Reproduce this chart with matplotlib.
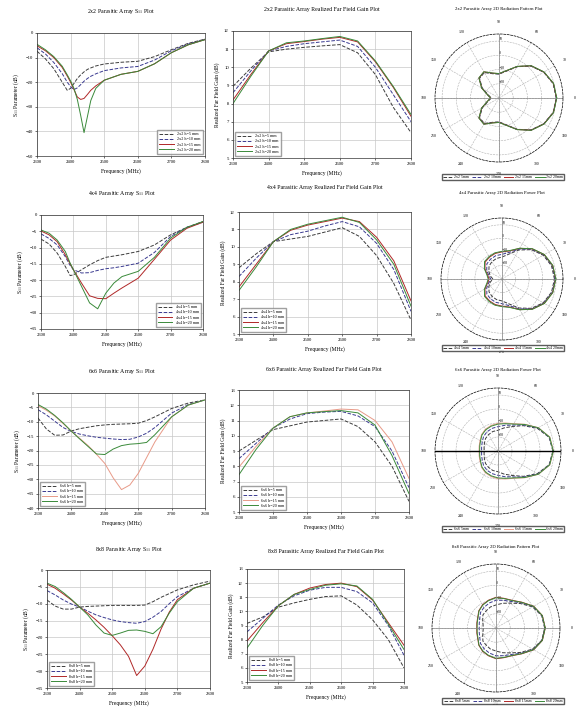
import numpy as np
import matplotlib
matplotlib.use('Agg')
import matplotlib.pyplot as plt

plt.rcParams['font.family'] = ['Liberation Serif', 'DejaVu Serif']
plt.rcParams['mathtext.fontset'] = 'stix'

W, H = 577, 707

# ---------------- data ----------------
array_sizes = ['2x2', '4x4', '6x6', '8x8']
heights = ['5', '10', '15', '20']

# S11 (dB)
f_s11_2x2 = [2300, 2325, 2350, 2375, 2390, 2400, 2410, 2420, 2430, 2440, 2450, 2460, 2475, 2500, 2550, 2600, 2650, 2700, 2750, 2800]
s11_2x2_h5 = [-7.4, -10.5, -14.5, -20.0, -23.3, -22.5, -20.5, -18.5, -17.0, -15.8, -14.8, -14.2, -13.4, -12.6, -11.9, -11.5, -9.6, -6.8, -4.2, -2.5]
s11_2x2_h10 = [-6.0, -8.5, -12.0, -16.5, -20.0, -21.8, -23.0, -22.3, -21.0, -19.6, -18.5, -17.6, -16.6, -15.3, -14.2, -13.6, -11.0, -7.2, -4.5, -2.6]
s11_2x2_h15 = [-5.2, -7.2, -10.0, -14.0, -17.5, -20.0, -23.0, -26.0, -27.0, -26.6, -25.0, -23.3, -21.5, -19.2, -16.8, -15.6, -12.5, -8.0, -4.8, -2.7]
s11_2x2_h20 = [-4.6, -6.8, -9.6, -13.5, -17.0, -19.5, -22.5, -27.0, -33.5, -40.5, -34.0, -27.5, -22.5, -19.2, -16.8, -15.6, -12.5, -8.0, -4.8, -2.7]

f_s11_4x4 = [2300, 2325, 2350, 2375, 2390, 2400, 2425, 2450, 2475, 2500, 2525, 2550, 2600, 2650, 2700, 2750, 2800]
s11_4x4_h5 = [-7.4, -8.9, -11.7, -15.8, -18.6, -18.4, -16.8, -15.3, -14.0, -13.0, -12.6, -12.2, -11.2, -9.2, -6.1, -3.8, -2.0]
s11_4x4_h10 = [-5.8, -7.2, -9.2, -12.8, -15.5, -16.8, -17.8, -17.7, -17.0, -16.5, -16.2, -15.8, -14.8, -11.5, -6.6, -3.8, -2.2]
s11_4x4_h15 = [-4.9, -6.1, -8.2, -12.2, -15.0, -16.8, -20.9, -24.8, -25.6, -25.7, -24.0, -22.4, -19.4, -13.6, -7.7, -4.1, -2.2]
s11_4x4_h20 = [-4.6, -5.6, -7.7, -11.2, -14.8, -16.8, -21.9, -27.0, -28.8, -24.0, -20.9, -18.9, -17.3, -13.0, -7.1, -3.8, -2.0]

f_s11_6x6 = [2300, 2325, 2350, 2375, 2400, 2425, 2450, 2475, 2500, 2525, 2550, 2575, 2600, 2625, 2650, 2700, 2750, 2800]
s11_6x6_h5 = [-8.7, -12.5, -14.7, -14.6, -13.2, -12.4, -11.9, -11.4, -11.1, -10.9, -10.8, -10.7, -10.5, -9.6, -8.3, -5.4, -3.5, -2.4]
s11_6x6_h10 = [-5.8, -7.6, -9.8, -12.0, -13.4, -14.3, -14.9, -15.4, -15.7, -16.0, -16.2, -16.1, -15.3, -14.0, -12.0, -7.0, -4.0, -2.4]
s11_6x6_h15 = [-4.4, -6.0, -8.0, -10.6, -13.3, -15.8, -18.3, -21.3, -24.5, -29.5, -33.6, -32.0, -28.0, -22.5, -17.0, -8.3, -4.2, -2.4]
s11_6x6_h20 = [-4.0, -5.6, -7.8, -10.4, -13.3, -16.0, -18.6, -21.2, -21.4, -19.5, -18.3, -17.8, -17.6, -17.2, -14.5, -8.3, -4.2, -2.4]

f_s11_8x8 = [2300, 2325, 2350, 2375, 2400, 2425, 2450, 2475, 2500, 2525, 2550, 2575, 2600, 2625, 2650, 2675, 2700, 2750, 2800]
s11_8x8_h5 = [-8.9, -10.7, -11.6, -11.6, -11.0, -10.8, -10.7, -10.6, -10.5, -10.5, -10.5, -10.5, -10.4, -9.4, -8.1, -7.0, -5.9, -4.4, -3.3]
s11_8x8_h10 = [-6.1, -7.4, -8.9, -10.1, -11.0, -12.2, -13.3, -14.1, -14.8, -15.3, -15.6, -15.8, -15.3, -14.0, -12.3, -10.0, -7.9, -5.4, -3.9]
s11_8x8_h15 = [-4.2, -5.4, -7.1, -8.9, -11.0, -12.8, -14.8, -17.0, -19.5, -22.2, -25.6, -31.3, -28.5, -23.5, -17.5, -12.5, -8.8, -5.4, -3.9]
s11_8x8_h20 = [-3.9, -4.9, -6.7, -8.7, -11.0, -13.3, -16.3, -18.7, -19.4, -18.7, -17.9, -17.8, -18.2, -18.9, -16.8, -12.8, -9.4, -5.4, -3.9]

# realized far field gain (dB)
f_gain = [2300, 2350, 2400, 2450, 2500, 2550, 2600, 2650, 2700, 2750, 2800]
gain_2x2_h5 = [8.95, 9.95, 10.85, 11.0, 11.1, 11.18, 11.25, 10.8, 9.6, 7.8, 6.4]
gain_2x2_h10 = [8.6, 9.8, 10.9, 11.15, 11.3, 11.4, 11.5, 11.15, 10.0, 8.5, 7.0]
gain_2x2_h15 = [8.2, 9.6, 10.9, 11.3, 11.42, 11.55, 11.65, 11.4, 10.3, 8.9, 7.3]
gain_2x2_h20 = [8.0, 9.5, 10.9, 11.35, 11.45, 11.58, 11.7, 11.45, 10.35, 8.95, 7.4]

gain_4x4_h5 = [8.8, 9.6, 10.3, 10.45, 10.6, 10.85, 11.1, 10.6, 9.5, 7.9, 5.8]
gain_4x4_h10 = [8.3, 9.35, 10.3, 10.7, 10.9, 11.2, 11.45, 11.15, 10.2, 8.7, 6.3]
gain_4x4_h15 = [7.7, 9.0, 10.3, 10.95, 11.25, 11.45, 11.65, 11.45, 10.55, 9.2, 6.9]
gain_4x4_h20 = [7.5, 8.85, 10.3, 11.0, 11.3, 11.5, 11.7, 11.4, 10.4, 9.0, 6.6]

gain_6x6_h5 = [9.0, 9.7, 10.4, 10.65, 10.9, 11.0, 11.1, 10.6, 9.6, 8.0, 5.7]
gain_6x6_h10 = [8.5, 9.5, 10.5, 11.1, 11.45, 11.55, 11.6, 11.3, 10.6, 9.0, 6.6]
gain_6x6_h15 = [7.95, 9.3, 10.5, 11.25, 11.5, 11.62, 11.75, 11.7, 11.0, 9.6, 7.2]
gain_6x6_h20 = [7.45, 9.1, 10.5, 11.25, 11.5, 11.58, 11.65, 11.5, 10.7, 8.7, 6.2]

gain_8x8_h5 = [9.15, 9.6, 10.3, 10.6, 10.85, 11.05, 11.1, 10.45, 9.4, 8.0, 6.0]
gain_8x8_h10 = [8.55, 9.5, 10.45, 11.1, 11.5, 11.7, 11.7, 11.4, 10.6, 9.0, 6.9]
gain_8x8_h15 = [7.9, 9.2, 10.4, 11.2, 11.65, 11.9, 12.0, 11.75, 10.8, 9.2, 7.6]
gain_8x8_h20 = [7.4, 9.0, 10.4, 11.2, 11.55, 11.85, 11.95, 11.8, 10.85, 9.1, 7.3]

# radiation pattern (dB), 0..180 deg, pattern is symmetric
theta_half = [0, 15, 30, 45, 60, 75, 90, 105, 120, 135, 150, 165, 180]
pat_2x2_h5 = [10.3, 9.4, 6.3, 1.8, -4.6, -10.5, -13.2, -12.3, -9.3, -10.6, -16.5, -22.3, -24.6]
pat_2x2_h10 = [10.4, 9.5, 6.4, 1.9, -4.5, -10.3, -13.0, -12.1, -9.0, -10.3, -16.2, -22.0, -24.3]
pat_2x2_h15 = [10.5, 9.6, 6.5, 2.0, -4.4, -10.2, -12.9, -11.9, -8.8, -10.1, -16.0, -21.8, -24.1]
pat_2x2_h20 = [10.6, 9.7, 6.6, 2.1, -4.3, -10.1, -12.8, -11.8, -8.7, -10.0, -15.9, -21.7, -24.0]

pat_4x4_h5 = [8.7, 7.8, 5.1, 0.6, -5.3, -11.1, -13.8, -14.3, -15.2, -16.5, -18.8, -21.0, -23.3]
pat_4x4_h10 = [9.2, 8.3, 5.6, 1.1, -4.5, -9.7, -11.8, -12.2, -13.1, -14.2, -17.0, -19.9, -21.7]
pat_4x4_h15 = [9.6, 8.7, 6.0, 1.5, -3.9, -8.6, -10.0, -10.5, -11.4, -12.4, -15.5, -19.0, -20.5]
pat_4x4_h20 = [9.7, 8.8, 6.1, 1.6, -3.8, -8.3, -9.6, -10.0, -10.9, -11.8, -15.0, -18.5, -19.8]

pat_6x6_h5 = [9.2, 7.8, 2.4, -4.4, -9.8, -12.9, -15.2, -15.6, -16.5, -17.4, -18.8, -19.7, -20.1]
pat_6x6_h10 = [9.4, 8.0, 2.9, -3.7, -8.6, -11.0, -12.6, -13.3, -14.2, -15.4, -17.0, -17.9, -18.3]
pat_6x6_h15 = [9.6, 8.3, 3.3, -3.0, -7.5, -9.3, -10.2, -11.1, -12.0, -13.4, -15.2, -16.1, -16.5]
pat_6x6_h20 = [9.5, 8.2, 3.2, -3.2, -7.8, -9.8, -10.8, -11.6, -12.5, -13.8, -15.6, -16.5, -16.9]

pat_8x8_h5 = [4.2, 3.3, -0.3, -5.7, -9.8, -12.0, -13.8, -14.7, -16.1, -17.0, -19.2, -20.6, -21.0]
pat_8x8_h10 = [4.4, 3.5, 0.2, -4.9, -8.5, -9.8, -10.5, -11.8, -13.2, -14.6, -16.8, -17.8, -18.2]
pat_8x8_h15 = [4.65, 3.75, 0.6, -4.35, -7.5, -8.4, -8.4, -9.75, -11.1, -12.9, -15.15, -16.05, -16.5]
pat_8x8_h20 = [4.6, 3.7, 0.5, -4.5, -7.7, -8.6, -8.7, -10.0, -11.4, -13.1, -15.4, -16.3, -16.7]

# ---------------- layout (pixel boxes) ----------------
rows = [
    dict(n='2x2', f=f_s11_2x2, s11=[s11_2x2_h5, s11_2x2_h10, s11_2x2_h15, s11_2x2_h20],
         gain=[gain_2x2_h5, gain_2x2_h10, gain_2x2_h15, gain_2x2_h20],
         pat=[pat_2x2_h5, pat_2x2_h10, pat_2x2_h15, pat_2x2_h20],
         s_box=(37, 33, 205, 156), s_lim=(-50, 0), s_step=10, s_leg='lower right', s_title_y=11,
         g_box=(233, 31, 411, 158), g_lim=(5, 12), g_title_y=10,
         p_c=(499, 98, 64), p_title='2D Radiation Pattern Plot', p_title_y=9, p_leg_y=177),
    dict(n='4x4', f=f_s11_4x4, s11=[s11_4x4_h5, s11_4x4_h10, s11_4x4_h15, s11_4x4_h20],
         gain=[gain_4x4_h5, gain_4x4_h10, gain_4x4_h15, gain_4x4_h20],
         pat=[pat_4x4_h5, pat_4x4_h10, pat_4x4_h15, pat_4x4_h20],
         s_box=(41, 215, 203, 329), s_lim=(-35, 0), s_step=5, s_leg='lower right', s_title_y=193,
         g_box=(239, 212, 411, 334), g_lim=(5, 12), g_title_y=188,
         p_c=(502, 279, 61), p_title='2D Radiation Power Plot', p_title_y=193, p_leg_y=348),
    dict(n='6x6', f=f_s11_6x6, s11=[s11_6x6_h5, s11_6x6_h10, s11_6x6_h15, s11_6x6_h20],
         gain=[gain_6x6_h5, gain_6x6_h10, gain_6x6_h15, gain_6x6_h20],
         pat=[pat_6x6_h5, pat_6x6_h10, pat_6x6_h15, pat_6x6_h20],
         s_box=(38, 393, 205, 508), s_lim=(-40, 0), s_step=5, s_leg='lower left', s_title_y=371,
         g_box=(239, 390, 409, 512), g_lim=(5, 13), g_title_y=370,
         p_c=(498, 451, 63), p_title='2D Radiation Power Plot', p_title_y=370, p_leg_y=529),
    dict(n='8x8', f=f_s11_8x8, s11=[s11_8x8_h5, s11_8x8_h10, s11_8x8_h15, s11_8x8_h20],
         gain=[gain_8x8_h5, gain_8x8_h10, gain_8x8_h15, gain_8x8_h20],
         pat=[pat_8x8_h5, pat_8x8_h10, pat_8x8_h15, pat_8x8_h20],
         s_box=(47, 570, 210, 688), s_lim=(-35, 0), s_step=5, s_leg='lower left', s_title_y=550,
         g_box=(247, 569, 404, 682), g_lim=(5, 13), g_title_y=551,
         p_c=(496, 628, 64), p_title='2D Radiation Pattern Plot', p_title_y=547, p_leg_y=701),
]

colors = ['#3c3c3c', '#3a3a90', '#b02828', '#3a8a3a']
styles = ['--', '--', '-', '-']

fig = plt.figure(figsize=(W / 100, H / 100), dpi=100)


def box(x0, y0, x1, y1):
    return [x0 / W, 1 - y1 / H, (x1 - x0) / W, (y1 - y0) / H]


def style_cart(ax):
    ax.tick_params(labelsize=3.4, length=1.5, width=0.4, pad=1.5)
    for s in ax.spines.values():
        s.set_linewidth(0.5)
        s.set_color('#333333')
    ax.grid(True, color='#c8c8c8', lw=0.5)
    ax.set_axisbelow(True)
    ax.set_xlim(2300, 2800)
    ax.set_xticks(range(2300, 2801, 100))
    ax.set_xlabel('Frequency (MHz)', fontsize=4, labelpad=3)


def ftext(x, y, s, size=4.2):
    fig.text(x / W, 1 - y / H, s, fontsize=size, ha='center', va='center')


for r in rows:
    n = r['n']
    labels = [n + ' h=' + h + ' mm' for h in heights]
    cols = list(colors)
    if n == '6x6':
        cols[2] = '#e89a88'

    # S11
    ax = fig.add_axes(box(*r['s_box']))
    for i in range(4):
        ax.plot(r['f'], r['s11'][i], ls=styles[i], color=cols[i], lw=0.7, label=labels[i])
    style_cart(ax)
    ax.set_ylim(*r['s_lim'])
    ax.set_yticks(np.arange(r['s_lim'][0], r['s_lim'][1] + 1, r['s_step']))
    ax.set_ylabel(r'S$_{11}$ Parameter (dB)', fontsize=4, labelpad=3)
    ax.legend(loc=r['s_leg'], fontsize=3, handlelength=3.5, frameon=True, fancybox=False,
              edgecolor='#888888', borderpad=0.5, labelspacing=0.3)
    x0, y0, x1, y1 = r['s_box']
    ftext((x0 + x1) / 2, r['s_title_y'], n + r' Parasitic Array S$_{11}$ Plot')

    # gain
    ax = fig.add_axes(box(*r['g_box']))
    for i in range(4):
        ax.plot(f_gain, r['gain'][i], ls=styles[i], color=cols[i], lw=0.7, label=labels[i])
    style_cart(ax)
    ax.set_ylim(*r['g_lim'])
    ax.set_yticks(range(r['g_lim'][0], r['g_lim'][1] + 1))
    ax.set_ylabel('Realized Far Field Gain (dB)', fontsize=4, labelpad=3)
    ax.legend(loc='lower left', fontsize=3, handlelength=3.5, frameon=True, fancybox=False,
              edgecolor='#888888', borderpad=0.5, labelspacing=0.3)
    x0, y0, x1, y1 = r['g_box']
    ftext((x0 + x1) / 2, r['g_title_y'], n + ' Parasitic Array Realized Far Field Gain Plot')

    # polar pattern
    cx, cy, rad = r['p_c']
    ax = fig.add_axes(box(cx - rad, cy - rad, cx + rad, cy + rad), projection='polar')
    th = np.deg2rad(theta_half + [360 - t for t in theta_half[-2::-1]])
    handles = []
    for i in range(4):
        vals = r['pat'][i]
        full = vals + vals[-2::-1]
        h, = ax.plot(th, full, ls=styles[i], color=cols[i], lw=0.7)
        handles.append(h)
    ax.set_ylim(-30, 15)
    ax.set_yticks([-20, -10, 0, 10])
    ax.set_rlabel_position(90)
    ax.set_thetagrids(range(0, 360, 30), [str(a) for a in range(0, 360, 30)])
    ax.tick_params(axis='x', labelsize=2.8, pad=-2)
    ax.tick_params(axis='y', labelsize=2.8)
    ax.grid(True, color='#b0b0b0', lw=0.4, ls='--')
    ax.spines['polar'].set_linewidth(0.5)
    ax.spines['polar'].set_linestyle((0, (3, 2)))
    if n == '6x6':
        ax.plot([0, np.pi], [15, 15], color='black', lw=1.0)
    else:
        ax.plot([0, np.pi], [15, 15], color='#888888', lw=0.5)
    ax.plot([np.pi / 2, 3 * np.pi / 2], [15, 15], color='#888888', lw=0.5)
    ftext(cx, r['p_title_y'], n + ' Parasitic Array ' + r['p_title'], size=3.4)
    fig.legend(handles, [n + ' ' + h + 'mm' for h in heights], loc='center',
               bbox_to_anchor=(503 / W, 1 - r['p_leg_y'] / H), ncol=4, fontsize=2.8,
               handlelength=2.5, handletextpad=0.4, frameon=True, fancybox=False,
               edgecolor='#333333', borderpad=0.3, columnspacing=0.8)

fig.savefig('out.png', dpi=100)
